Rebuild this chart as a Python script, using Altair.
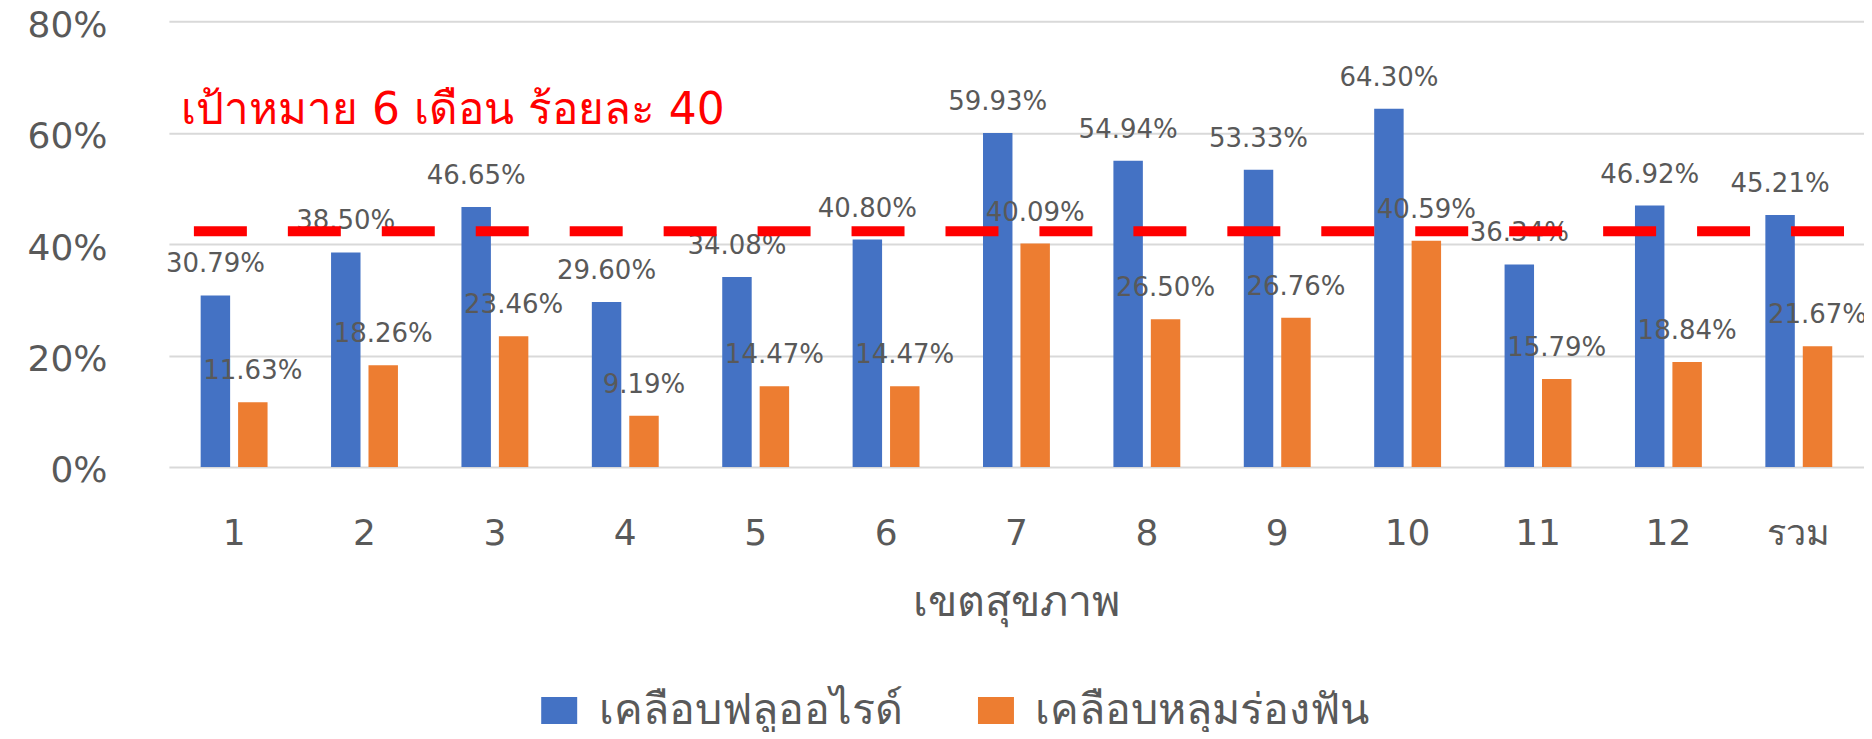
import altair as alt
import pandas as pd

# ---- data ----
regions = ["1", "2", "3", "4", "5", "6", "7", "8", "9", "10", "11", "12", "รวม"]
fluoride = [30.79, 38.50, 46.65, 29.60, 34.08, 40.80, 59.93, 54.94, 53.33, 64.30, 36.34, 46.92, 45.21]
sealant = [11.63, 18.26, 23.46, 9.19, 14.47, 14.47, 40.09, 26.50, 26.76, 40.59, 15.79, 18.84, 21.67]
series_names = ["เคลือบฟลูออไรด์", "เคลือบหลุมร่องฟัน"]
series_colors = ["#4472C4", "#ED7D31"]
x_title = "เขตสุขภาพ"
target_line = [42.3]          # dashed target line position (percent)
target_text = ["เป้าหมาย 6 เดือน ร้อยละ 40"]
target_text_y = [61.6]        # annotation baseline (percent)
y_ticks = [0, 0.2, 0.4, 0.6, 0.8]

FONT = "DejaVu Sans, Noto Sans, sans-serif"
GRAY = "#595959"

rows = []
for i, r in enumerate(regions):
    rows.append({"region": r, "series": series_names[0], "value": fluoride[i] / 100})
    rows.append({"region": r, "series": series_names[1], "value": sealant[i] / 100})
df = pd.DataFrame(rows)

x_enc = alt.X(
    "region:N",
    sort=regions,
    scale=alt.Scale(paddingInner=0.487, paddingOuter=0.2435),
    axis=alt.Axis(
        title=x_title,
        labelAngle=0,
        domain=False,
        ticks=False,
        grid=False,
        labelFontSize=36,
        labelColor=GRAY,
        labelPadding=50,
        labelFont=FONT,
        titleFontSize=43,
        titleColor=GRAY,
        titleFontWeight="normal",
        titleFont=FONT,
        titlePadding=30,
    ),
)
xoff_enc = alt.XOffset(
    "series:N", sort=series_names, scale=alt.Scale(paddingInner=0.213, paddingOuter=0)
)
y_enc = alt.Y(
    "value:Q",
    scale=alt.Scale(domain=[0, 0.8]),
    axis=alt.Axis(
        title=None,
        format=".0%",
        values=y_ticks,
        domain=False,
        ticks=False,
        tickSize=0,
        grid=True,
        gridColor="#d9d9d9",
        gridWidth=2,
        labelFontSize=36,
        labelColor=GRAY,
        labelPadding=62,
        labelOffset=4,
        labelFont=FONT,
    ),
)

base = alt.Chart(df)

bars = base.mark_bar().encode(
    x=x_enc,
    xOffset=xoff_enc,
    y=y_enc,
    color=alt.Color(
        "series:N",
        sort=series_names,
        scale=alt.Scale(domain=series_names, range=series_colors),
        legend=alt.Legend(
            title=None,
            orient="none",
            direction="horizontal",
            legendX=369,
            legendY=668,
            symbolType="M-1,-0.75H1V0.75H-1Z",
            symbolSize=1296,
            symbolStrokeWidth=0,
            labelFontSize=43,
            labelColor=GRAY,
            labelFont=FONT,
            labelOffset=18,
            columnPadding=72,
            labelLimit=700,
        ),
    ),
)

labels = base.mark_text(
    dy=-23, baseline="alphabetic", fontSize=26, color=GRAY, font=FONT
).encode(
    x=x_enc,
    xOffset=xoff_enc,
    y=alt.Y("value:Q"),
    text=alt.Text("value:Q", format=".2%"),
)

rule_df = pd.DataFrame({"value": [v / 100 for v in target_line]})
rule = alt.Chart(rule_df).mark_rule(
    color="#FF0000", strokeWidth=10, strokeDash=[53, 41], strokeDashOffset=74
).encode(y=alt.Y("value:Q"))

ann_df = pd.DataFrame({"label": target_text, "value": [v / 100 for v in target_text_y]})
annotation = alt.Chart(ann_df).mark_text(
    align="left", baseline="alphabetic", fontSize=44, color="#FF0000", font=FONT
).encode(x=alt.value(12), y=alt.Y("value:Q"), text="label:N")

chart = (
    alt.layer(bars, labels, rule, annotation)
    .properties(
        width=1696,
        height=446,
        autosize=alt.AutoSizeParams(type="none"),
        padding={"left": 161, "top": 13, "right": 0, "bottom": 265},
    )
    .configure_view(strokeWidth=0)
)

chart.save("out.html", embed_options={"renderer": "svg", "actions": False})
